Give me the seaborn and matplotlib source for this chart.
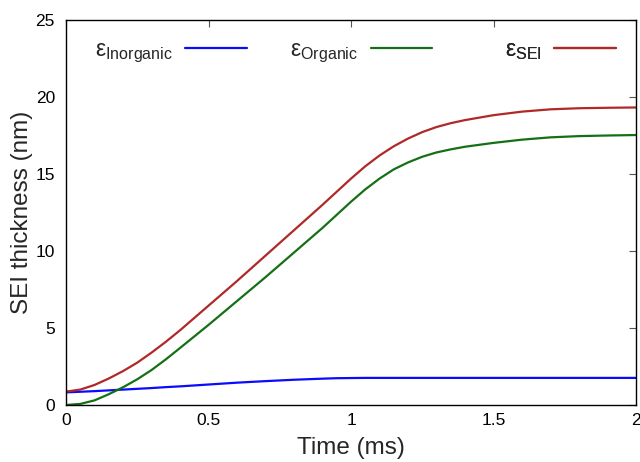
import numpy as np
import pandas as pd
import matplotlib
matplotlib.use("Agg")
import matplotlib.pyplot as plt
import seaborn as sns

time_ms = [0.0, 0.05, 0.1, 0.15, 0.2, 0.25, 0.3, 0.35, 0.4, 0.5, 0.6, 0.7, 0.8, 0.9, 0.95, 1.0,
           1.05, 1.1, 1.15, 1.2, 1.25, 1.3, 1.35, 1.4, 1.5, 1.6, 1.7, 1.8, 1.9, 2.0]
sei = [0.87, 1.0, 1.3, 1.72, 2.2, 2.75, 3.4, 4.1, 4.85, 6.45, 8.05, 9.7, 11.35, 13.0, 13.85, 14.7,
       15.5, 16.2, 16.8, 17.3, 17.72, 18.05, 18.3, 18.5, 18.82, 19.05, 19.2, 19.27, 19.3, 19.32]
organic = [0.0, 0.07, 0.3, 0.7, 1.15, 1.67, 2.27, 2.96, 3.7, 5.2, 6.75, 8.3, 9.9, 11.5, 12.35, 13.2,
           14.0, 14.7, 15.3, 15.75, 16.12, 16.4, 16.6, 16.77, 17.02, 17.23, 17.38, 17.46, 17.5, 17.53]
inorganic = [0.82, 0.86, 0.9, 0.95, 1.0, 1.05, 1.1, 1.16, 1.21, 1.33, 1.45, 1.55, 1.64, 1.71, 1.74, 1.75,
             1.76, 1.76, 1.76, 1.76, 1.76, 1.76, 1.76, 1.76, 1.76, 1.76, 1.76, 1.76, 1.76, 1.76]

series_names = ["Inorganic", "Organic", "SEI"]
colors = ["#0a0aff", "#157015", "#b02828"]

sns.set_theme(style="white")
plt.rcParams['font.family'] = ['Liberation Sans', 'DejaVu Sans']
plt.rcParams['mathtext.fontset'] = 'custom'
plt.rcParams['mathtext.rm'] = 'Liberation Sans'

df = pd.DataFrame({"time": time_ms * 3,
                   "value": inorganic + organic + sei,
                   "series": sum([[n] * len(time_ms) for n in series_names], [])})

fig = plt.figure(figsize=(6.4, 4.62), dpi=100)
ax = fig.add_axes([66/640, 1 - 405/462, 570/640, 385/462])

for name, col in zip(series_names, colors):
    sub = df[df.series == name]
    sns.lineplot(data=sub, x="time", y="value", ax=ax, color=col, linewidth=1.6,
                 label=name, legend=False)

ax.set_xlim(0, 2)
ax.set_ylim(0, 25)
ax.set_xticks([0, 0.5, 1, 1.5, 2])
ax.set_xticklabels(["0", "0.5", "1", "1.5", "2"])
ax.set_yticks([0, 5, 10, 15, 20, 25])
ax.tick_params(direction='in', length=5, width=0.8, color='#555555', labelsize=12.5,
               top=True, right=True, labelcolor='black')
ax.tick_params(axis='x', pad=6)
ax.tick_params(axis='y', pad=8)
for s in ax.spines.values():
    s.set_color('black')
    s.set_linewidth(1.0)
ax.set_xlabel("Time (ms)", fontsize=17.5, labelpad=6)
ax.set_ylabel("SEI thickness (nm)", fontsize=17.5, labelpad=2)

lines = ax.get_lines()
positions = [(95 - 66) / 570, (290 - 66) / 570, (505 - 66) / 570]
for ln, name, xpos in zip(lines, series_names, positions):
    lab = 'ε' + r'$_{\mathregular{' + name + '}}$'
    leg = ax.legend([ln], [lab], loc='upper left', bbox_to_anchor=(xpos, 0.953),
                    frameon=False, markerfirst=False, fontsize=16.5, handlelength=2.7,
                    handletextpad=0.55, borderpad=0, borderaxespad=0)
    ax.add_artist(leg)

fig.savefig("out.png", dpi=100)
